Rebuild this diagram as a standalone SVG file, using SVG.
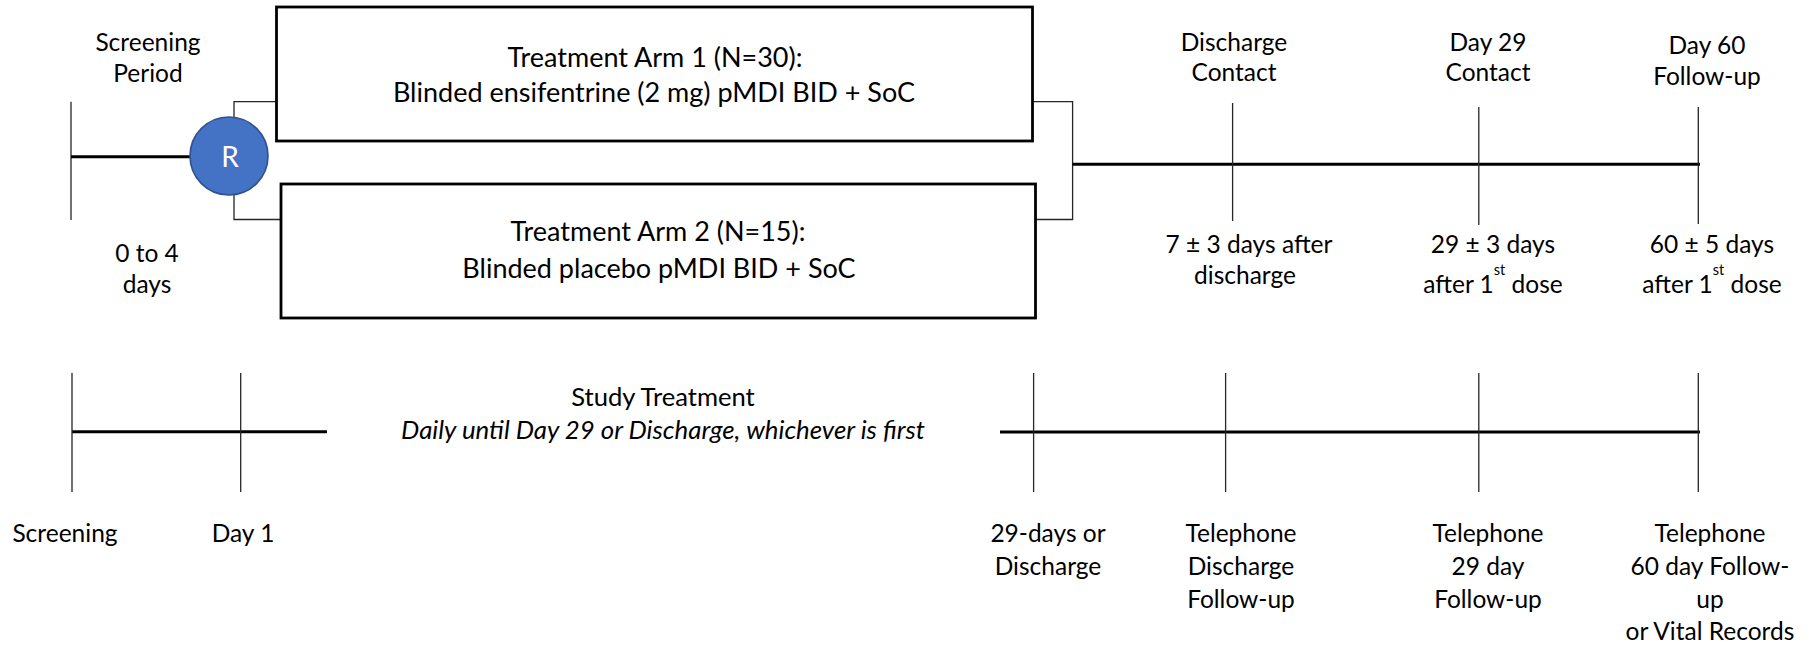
<svg xmlns="http://www.w3.org/2000/svg" width="1809" height="645" viewBox="0 0 1809 645">
<style>
text{font-family:Lato,"Liberation Sans",sans-serif;font-size:24.5px;fill:#000;text-anchor:middle}
.bx{font-size:27px}
.it{font-style:italic;font-size:25.8px}
.st{font-size:25.6px}
.sup{font-size:14.5px}
.thin{stroke:#262626;stroke-width:1.3;fill:none}
.thick{stroke:#000;stroke-width:3;fill:none}
.box{fill:#fff;stroke:#000;stroke-width:2.8}
</style>
<rect width="1809" height="645" fill="#fff"/>
<g id="connectors">
<path class="thin" d="M71,101.7V220"/>
<path class="thick" d="M71,156.7H190"/>
<path class="thin" d="M234,117V101.7H276.5"/>
<path class="thin" d="M234,195V219.5H281"/>
<path class="thin" d="M1032.4,101.7H1072.6V219.5H1035.5"/>
<path class="thick" d="M1072.6,164.3H1700"/>
<path class="thin" d="M1232.6,103V221M1478.8,107V225M1698.3,107V224"/>
<path class="thick" d="M72,431.7H327"/>
<path class="thick" d="M1000,432H1700"/>
<path class="thin" d="M72,373V492M240.7,373V492M1033.6,373V492M1225.6,373V492M1478.8,373V492M1698.3,373V492"/>
</g>
<g id="screening-period">
<text x="148" y="51">Screening</text>
<text x="148" y="82">Period</text>
<text x="147" y="262">0 to 4</text>
<text x="147" y="293">days</text>
</g>
<g id="randomisation">
<circle cx="229" cy="156" r="39" fill="#4472C4" stroke="#2F528F" stroke-width="1.6"/>
<text x="230" y="166.5" style="fill:#fff;font-size:28px">R</text>
</g>
<g id="arm1">
<rect class="box" x="276.5" y="7" width="756" height="134"/>
<text class="bx" x="655" y="67">Treatment Arm 1 (N=30):</text>
<text class="bx" x="654" y="102">Blinded ensifentrine (2 mg) pMDI BID + SoC</text>
</g>
<g id="arm2">
<rect class="box" x="281" y="184" width="754.5" height="134"/>
<text class="bx" x="658" y="241">Treatment Arm 2 (N=15):</text>
<text class="bx" x="659" y="278">Blinded placebo pMDI BID + SoC</text>
</g>
<g id="discharge-contact">
<text x="1234" y="51">Discharge</text>
<text x="1234" y="81">Contact</text>
<text x="1249" y="253">7 ± 3 days after</text>
<text x="1245" y="284">discharge</text>
</g>
<g id="day29-contact">
<text x="1488" y="51">Day 29</text>
<text x="1488" y="81">Contact</text>
<text x="1493" y="253">29 ± 3 days</text>
<text x="1493" y="293">after 1<tspan class="sup" dy="-18">st</tspan><tspan dy="18"> dose</tspan></text>
</g>
<g id="day60-followup">
<text x="1707" y="54">Day 60</text>
<text x="1707" y="85">Follow-up</text>
<text x="1712" y="253">60 ± 5 days</text>
<text x="1712" y="293">after 1<tspan class="sup" dy="-18">st</tspan><tspan dy="18"> dose</tspan></text>
</g>
<g id="study-treatment">
<text class="st" x="663" y="406">Study Treatment</text>
<text class="it" x="663" y="439">Daily until Day 29 or Discharge, whichever is first</text>
</g>
<g id="screening">
<text x="65" y="542">Screening</text>
</g>
<g id="day1">
<text x="243" y="542">Day 1</text>
</g>
<g id="end-of-treatment">
<text x="1048" y="542">29-days or</text>
<text x="1048" y="575">Discharge</text>
</g>
<g id="telephone-discharge">
<text x="1241" y="542">Telephone</text>
<text x="1241" y="575">Discharge</text>
<text x="1241" y="608">Follow-up</text>
</g>
<g id="telephone-29">
<text x="1488" y="542">Telephone</text>
<text x="1488" y="575">29 day</text>
<text x="1488" y="608">Follow-up</text>
</g>
<g id="telephone-60">
<text x="1710" y="542">Telephone</text>
<text x="1710" y="575">60 day Follow-</text>
<text x="1710" y="608">up</text>
<text x="1710" y="640">or Vital Records</text>
</g>
</svg>
